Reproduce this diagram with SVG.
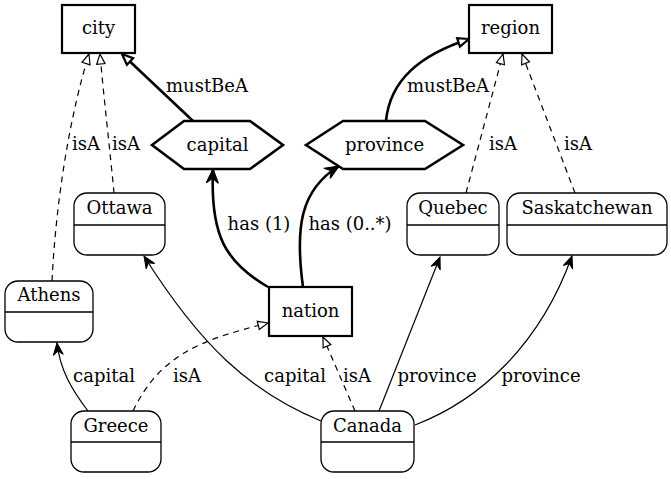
<svg xmlns="http://www.w3.org/2000/svg" width="671" height="479" viewBox="0 0 671 479">
<style>
text{font-family:"DejaVu Serif","Liberation Serif",serif;font-size:18px;fill:#000;text-anchor:middle}
.box{fill:#fff;stroke:#000;stroke-width:2.2}
.hex{fill:#fff;stroke:#000;stroke-width:2.6}
.inst{fill:#fff;stroke:#000;stroke-width:1.3}
.div{stroke:#000;stroke-width:1.3}
.e{fill:none;stroke:#000}
.thick{stroke-width:2.6}
.thin{stroke-width:1.2}
.dash{stroke-width:1.2;stroke-dasharray:6,5}
</style>
<defs>
<marker id="tri" markerUnits="userSpaceOnUse" viewBox="-12 -6 14 12" refX="0" refY="0" markerWidth="14" markerHeight="12" orient="auto">
<path d="M0,0 L-10,-4.2 L-10,4.2 Z" fill="#fff" stroke="#000" stroke-width="1.2"/>
</marker>
<marker id="triT" markerUnits="userSpaceOnUse" viewBox="-13 -7 15 14" refX="0" refY="0" markerWidth="15" markerHeight="14" orient="auto">
<path d="M0,0 L-11,-4.5 L-11,4.5 Z" fill="#fff" stroke="#000" stroke-width="2.2"/>
</marker>
<marker id="vee" markerUnits="userSpaceOnUse" viewBox="-14 -7 16 14" refX="0" refY="0" markerWidth="16" markerHeight="14" orient="auto">
<path d="M0,0 L-12,-5 L-8,0 L-12,5 Z" fill="#000" stroke="#000" stroke-width="1"/>
</marker>
<marker id="veeT" markerUnits="userSpaceOnUse" viewBox="-16 -8 18 16" refX="0" refY="0" markerWidth="18" markerHeight="16" orient="auto">
<path d="M0,0 L-14,-6 L-9,0 L-14,6 Z" fill="#000" stroke="#000" stroke-width="1.2"/>
</marker>
</defs>
<rect width="671" height="479" fill="#fff"/>
<g id="connectors">
<path class="e dash" d="M52,281 C56,200 70,115 89,54" marker-end="url(#tri)"/>
<path class="e dash" d="M114,193 C110,150 104,100 100,54" marker-end="url(#tri)"/>
<path class="e thick" d="M193,121 L122,54" marker-end="url(#triT)"/>
<path class="e thick" d="M386,121 C390,80 420,55 469,39" marker-end="url(#triT)"/>
<path class="e dash" d="M466,193 L503,54" marker-end="url(#tri)"/>
<path class="e dash" d="M575,193 L522,54" marker-end="url(#tri)"/>
<path class="e thick" d="M268,287 C225,262 210,235 213,169" marker-end="url(#veeT)"/>
<path class="e thick" d="M303,287 C295,228 300,190 339,166" marker-end="url(#veeT)"/>
<path class="e thin" d="M88,411 C72,390 60,370 57,343" marker-end="url(#vee)"/>
<path class="e dash" d="M133,411 C160,355 200,340 268,323" marker-end="url(#tri)"/>
<path class="e thin" d="M321,421 C250,392 200,345 144,256" marker-end="url(#vee)"/>
<path class="e dash" d="M355,411 L323,337" marker-end="url(#tri)"/>
<path class="e thin" d="M379,411 L440,257" marker-end="url(#vee)"/>
<path class="e thin" d="M415,425 C480,400 540,345 572,256" marker-end="url(#vee)"/>
<text x="86" y="150">isA</text>
<text x="126" y="150">isA</text>
<text x="207" y="92">mustBeA</text>
<text x="448" y="92">mustBeA</text>
<text x="503" y="150">isA</text>
<text x="578" y="150">isA</text>
<text x="259" y="230">has (1)</text>
<text x="350" y="230">has (0..*)</text>
<text x="104" y="382">capital</text>
<text x="187" y="382">isA</text>
<text x="295" y="382">capital</text>
<text x="357" y="382">isA</text>
<text x="437" y="382">province</text>
<text x="541" y="382">province</text>
</g>
<g id="city">
<rect class="box" x="62" y="5" width="73" height="48"/>
<text x="98.5" y="34">city</text>
</g>
<g id="region">
<rect class="box" x="469" y="5" width="83" height="48"/>
<text x="510.5" y="34">region</text>
</g>
<g id="capital">
<polygon class="hex" points="152,145 184,121 250,121 283,145 250,169 184,169"/>
<text x="217.5" y="151">capital</text>
</g>
<g id="province">
<polygon class="hex" points="306,145 343,121 425,121 463,145 425,169 343,169"/>
<text x="384.5" y="151">province</text>
</g>
<g id="nation">
<rect class="box" x="269" y="287" width="83" height="49"/>
<text x="310.5" y="317">nation</text>
</g>
<g id="Ottawa">
<rect class="inst" x="74" y="193" width="91" height="62" rx="13"/>
<line class="div" x1="74" y1="225" x2="165" y2="225"/>
<text x="119.5" y="214">Ottawa</text>
</g>
<g id="Quebec">
<rect class="inst" x="407" y="193" width="92" height="62" rx="13"/>
<line class="div" x1="407" y1="225" x2="499" y2="225"/>
<text x="453" y="214">Quebec</text>
</g>
<g id="Saskatchewan">
<rect class="inst" x="507" y="193" width="160" height="62" rx="13"/>
<line class="div" x1="507" y1="225" x2="667" y2="225"/>
<text x="587" y="214">Saskatchewan</text>
</g>
<g id="Athens">
<rect class="inst" x="5" y="281" width="88" height="61" rx="13"/>
<line class="div" x1="5" y1="312" x2="93" y2="312"/>
<text x="49" y="301">Athens</text>
</g>
<g id="Greece">
<rect class="inst" x="71" y="411" width="90" height="61" rx="13"/>
<line class="div" x1="71" y1="442" x2="161" y2="442"/>
<text x="116" y="432">Greece</text>
</g>
<g id="Canada">
<rect class="inst" x="321" y="411" width="93" height="61" rx="13"/>
<line class="div" x1="321" y1="442" x2="414" y2="442"/>
<text x="367.5" y="432">Canada</text>
</g>
</svg>
